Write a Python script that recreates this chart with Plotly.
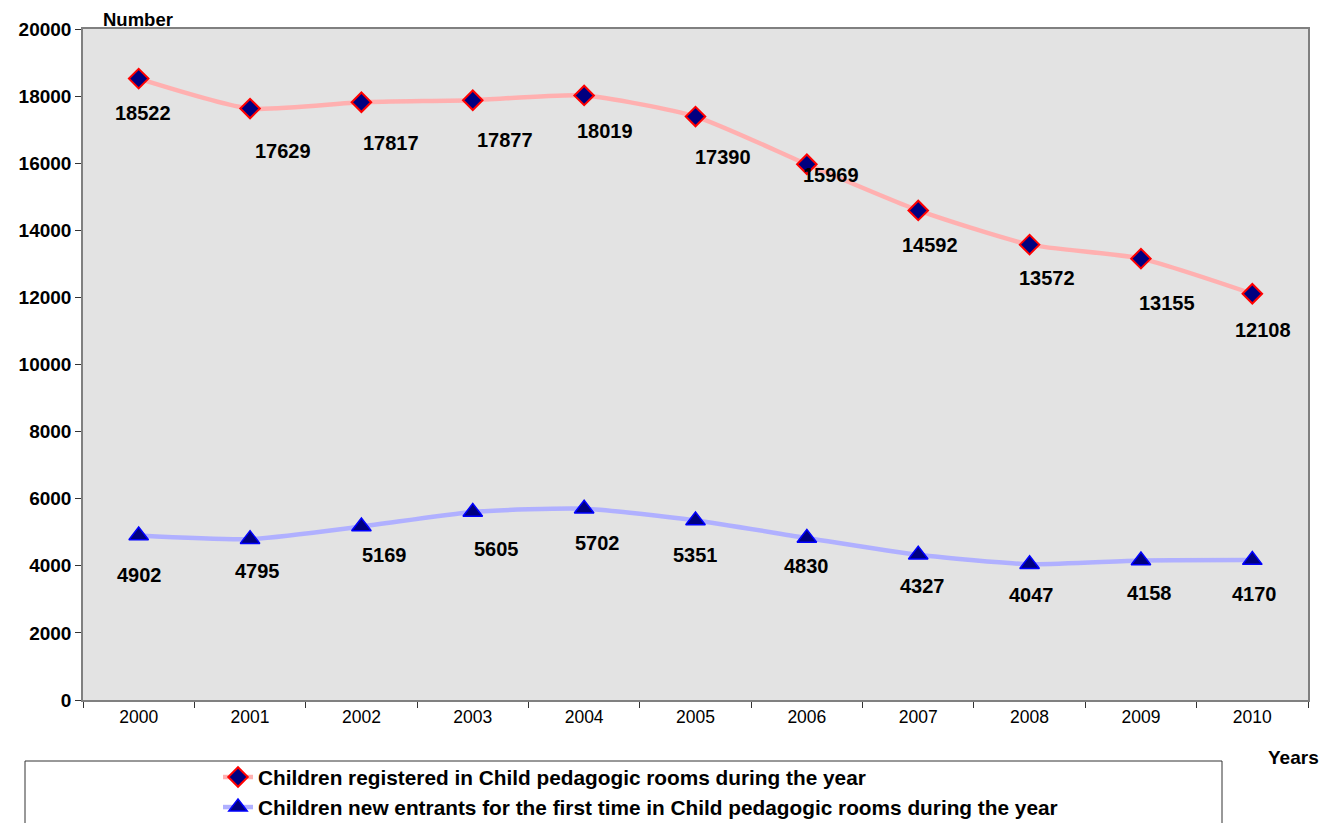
import plotly.graph_objects as go

years = [2000, 2001, 2002, 2003, 2004, 2005, 2006, 2007, 2008, 2009, 2010]
registered = [18522, 17629, 17817, 17877, 18019, 17390, 15969, 14592, 13572, 13155, 12108]
new_entrants = [4902, 4795, 5169, 5605, 5702, 5351, 4830, 4327, 4047, 4158, 4170]
y_ticks = [0, 2000, 4000, 6000, 8000, 10000, 12000, 14000, 16000, 18000, 20000]

name_reg = "Children registered in Child pedagogic rooms during the year"
name_new = "Children new entrants for the first time in Child pedagogic rooms during the year"

# label offsets in pixels (style only)
reg_dx = [4, 33, 30, 32, 21, 27, 24, 12, 17, 26, 11]
reg_dy = [34, 42, 41, 40, 36, 40, 11, 35, 33, 44, 36]
new_dx = [1, 7, 23, 24, 13, 0, 0, 4, 2, 9, 2]
new_dy = [39, 32, 28, 37, 34, 35, 28, 31, 31, 32, 34]

FONT = "Liberation Sans, Arial, sans-serif"
OFF = 8  # page body margin
W, H = 1335 - 2 * OFF, 823 - OFF
L, R, T, B = 83 - OFF, 27 - OFF, 29 - OFF, 123
PW, PH = W - L - R, H - T - B

def px(x):  # page pixel x -> paper
    return (x - OFF - L) / PW

def py(y):  # page pixel y -> paper
    return (OFF + T + PH - y) / PH

fig = go.Figure()
fig.add_trace(go.Scatter(
    x=years, y=registered, name="<b>" + name_reg + "</b>", mode="lines+markers",
    line=dict(color="#FFB0B0", width=4.5, shape="spline", smoothing=0.6),
    marker=dict(symbol="diamond", size=15, color="#000080", line=dict(color="#FF0000", width=2)),
))
fig.add_trace(go.Scatter(
    x=years, y=new_entrants, name="<b>" + name_new + "</b>", mode="lines+markers",
    line=dict(color="#B0B0FF", width=4.5, shape="spline", smoothing=0.6),
    marker=dict(symbol="triangle-up", size=17, color="#000080", line=dict(color="#0000FF", width=1.5)),
))

for i, yr in enumerate(years):
    fig.add_annotation(x=yr, y=registered[i], text="<b>%d</b>" % registered[i], showarrow=False,
                       xshift=reg_dx[i], yshift=-reg_dy[i], font=dict(family=FONT, size=20, color="black"))
    fig.add_annotation(x=yr, y=new_entrants[i], text="<b>%d</b>" % new_entrants[i], showarrow=False,
                       xshift=new_dx[i], yshift=-new_dy[i], font=dict(family=FONT, size=20, color="black"))

fig.add_annotation(xref="paper", yref="paper", x=px(101), y=py(19), text="<b>Number</b>",
                   showarrow=False, xanchor="left", yanchor="middle", font=dict(family=FONT, size=18.5, color="black"))
fig.add_annotation(xref="paper", yref="paper", x=px(1321), y=py(758), text="<b>Years</b>",
                   showarrow=False, xanchor="right", yanchor="middle", font=dict(family=FONT, size=19, color="black"))

# legend frame
fig.add_shape(type="rect", xref="paper", yref="paper",
              x0=px(25), x1=px(1222), y0=py(761), y1=py(840),
              line=dict(color="#333333", width=1), fillcolor="white", layer="below")

fig.update_layout(
    width=W, height=H,
    margin=dict(l=L, r=R, t=T, b=B, autoexpand=False),
    paper_bgcolor="white", plot_bgcolor="#E3E3E3",
    font=dict(family=FONT, color="black"),
    showlegend=True,
    legend=dict(xref="container", yref="container", x=(218 - OFF) / W, y=1 - (757 - OFF) / H,
                xanchor="left", yanchor="top",
                bgcolor="rgba(0,0,0,0)", font=dict(family=FONT, size=20.8, color="black"),
                tracegroupgap=0),
    xaxis=dict(range=[1999.5, 2010.5], tickvals=years, ticktext=[str(y) for y in years],
               ticks="", showgrid=False, zeroline=False, showline=True, linecolor="#808080", linewidth=1.5,
               mirror=True, automargin=False, tickfont=dict(family=FONT, size=17.5, color="black"),
               minor=dict(tickvals=[1999.5 + k for k in range(12)], ticks="outside", ticklen=6,
                          tickcolor="#333333", showgrid=False)),
    yaxis=dict(range=[0, 20000], tickvals=y_ticks, ticktext=["<b>%d</b>" % v for v in y_ticks],
               ticks="outside", ticklen=6, tickcolor="#333333", showgrid=False, zeroline=False,
               showline=True, linecolor="#808080", linewidth=1.5, mirror=True, automargin=False,
               tickfont=dict(family=FONT, size=19, color="black")),
)

fig.write_html("out.html")
